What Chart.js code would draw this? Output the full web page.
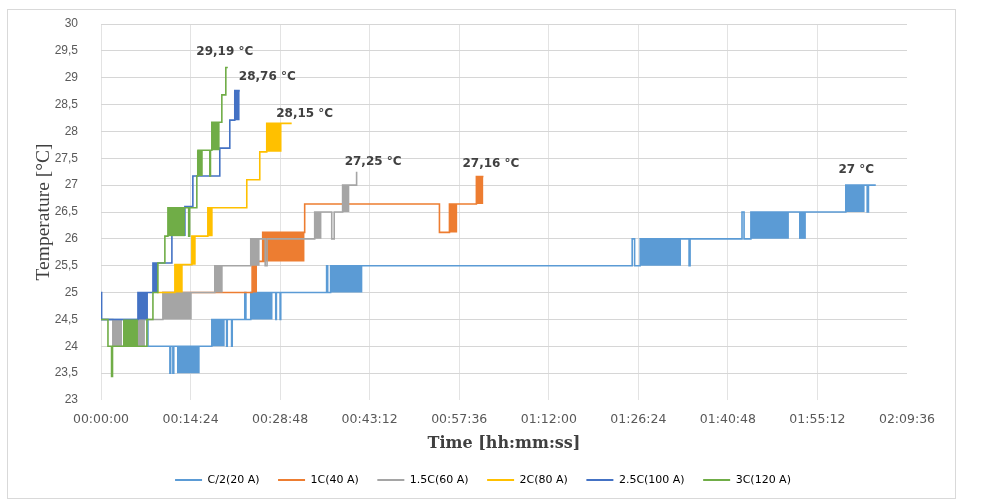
<!DOCTYPE html>
<html><head><meta charset="utf-8">
<script src="https://cdn.jsdelivr.net/npm/chart.js@4.4.1/dist/chart.umd.min.js"></script>
<style>
html,body{margin:0;padding:0;background:#fff;}
#frame{position:absolute;left:7px;top:9px;width:949px;height:490px;box-sizing:border-box;border:1px solid #d9d9d9;}
#c{position:absolute;left:8px;top:10px;}
</style></head><body>
<div id="frame"></div>
<canvas id="c" width="946" height="487"></canvas>
<script>
// ---- data (time in minutes, temperature in °C; each temperature holds until the next time) ----
const xTickLabels = ["00:00:00","00:14:24","00:28:48","00:43:12","00:57:36","01:12:00","01:26:24","01:40:48","01:55:12","02:09:36"];
const seriesNames = ["C/2(20 A)","1C(40 A)","1.5C(60 A)","2C(80 A)","2.5C(100 A)","3C(120 A)"];
const peakLabels = ["27 °C","27,16 °C","27,25 °C","28,15 °C","28,76 °C","29,19 °C"];

const c2Time = [0, 7.55, 11.08, 11.2, 11.56, 11.7, 17.82, 20.2, 20.3, 21.0, 21.1, 23.12, 23.3, 24.08, 28.1, 28.2, 28.8, 28.9, 36.28, 36.45, 36.92, 85.41, 85.8, 86.7, 94.56, 94.72, 103.07, 103.4, 104.5, 119.76, 123.2, 123.4, 124.58];
const c2Temp = [24.5, 24.0, 23.5, 24.0, 23.5, 24.0, 24.5, 24.0, 24.5, 24.0, 24.5, 25.0, 24.5, 25.0, 24.5, 25.0, 24.5, 25.0, 25.5, 25.0, 25.5, 26.0, 25.5, 26.0, 25.5, 26.0, 26.5, 26.0, 26.5, 27.0, 26.5, 27.0, 27.0];
// fluctuation bands: [start, end, low, high]
const c2Bands = [[12.2,15.89,23.5,24.0],[17.82,19.91,24.0,24.5],[24.08,27.61,24.5,25.0],[36.92,42.06,25.0,25.5],[86.7,93.27,25.5,26.0],[104.5,110.61,26.0,26.5],[112.22,113.34,26.0,26.5],[119.76,122.81,26.5,27.0]];

const c1Time = [9.8, 24.3, 26.0, 26.15, 26.33, 32.75, 54.42, 56.03, 60.36, 61.49];
const c1Temp = [25.0, 25.58, 26.12, 25.58, 26.12, 26.65, 26.12, 26.65, 27.16, 27.16];
const c1Bands = [[24.3,25.1,25.0,25.58],[26.33,32.75,25.58,26.12],[56.03,57.31,26.12,26.65],[60.36,61.49,26.65,27.16]];

const c15Time = [0, 1.9, 5.94, 9.95, 18.3, 24.08, 26.4, 26.7, 34.36, 37.1, 37.5, 38.85, 41.1];
const c15Temp = [24.5, 24.0, 24.5, 25.0, 25.5, 26.0, 25.5, 26.0, 26.5, 26.0, 26.5, 27.0, 27.25];
const c15Bands = [[1.9,3.4,24.0,24.5],[5.94,7.06,24.0,24.5],[9.95,14.61,24.5,25.0],[18.3,19.59,25.0,25.5],[24.08,25.53,25.5,26.0],[34.36,35.48,26.0,26.5],[38.85,39.97,26.5,27.0]];

const c20Time = [8.99, 11.88, 14.61, 17.18, 23.44, 25.53, 26.65, 30.66];
const c20Temp = [25.0, 25.52, 26.05, 26.58, 27.1, 27.62, 28.15, 28.15];
const c20Bands = [[11.88,13.16,25.0,25.52],[14.61,15.25,25.52,26.05],[17.18,17.98,26.05,26.58],[26.65,29.06,27.62,28.15]];

const c25Time = [0, 0.1, 5.94, 8.35, 11.4, 13.49, 14.77, 19.1, 20.71, 21.51, 22.31];
const c25Temp = [25.0, 24.5, 25.0, 25.55, 26.07, 26.6, 27.17, 27.69, 28.21, 28.76, 28.76];
const c25Bands = [[5.94,7.55,24.5,25.0],[8.35,9.15,25.0,25.55],[21.51,22.31,28.21,28.76]];

const c30Time = [0, 1.12, 1.7, 1.85, 7.38, 8.35, 9.15, 10.27, 10.76, 14.1, 14.25, 15.41, 15.6, 17.5, 17.6, 17.82, 19.43, 20.07, 20.39];
const c30Temp = [24.5, 24.0, 23.44, 24.0, 24.5, 25.0, 25.55, 26.05, 26.58, 26.05, 26.58, 27.17, 27.65, 27.17, 27.65, 28.17, 28.68, 29.19, 29.19];
const c30Bands = [[3.53,5.94,24.0,24.5],[10.76,13.49,26.05,26.58],[15.41,16.38,27.17,27.65],[17.82,19.1,27.65,28.17]];

// ---- styles ----
const colors = ['#5B9BD5','#ED7D31','#A5A5A5','#FFC000','#4472C4','#70AD47'];
const labelOffsets = [[-19.5,-15.7],[7.5,-12.6],[16.5,-9.8],[13,-9.4],[27.5,-13.7],[-3,-15.6]];

const series = [
  {time:c2Time, temp:c2Temp, bands:c2Bands},
  {time:c1Time, temp:c1Temp, bands:c1Bands},
  {time:c15Time, temp:c15Temp, bands:c15Bands},
  {time:c20Time, temp:c20Temp, bands:c20Bands},
  {time:c25Time, temp:c25Temp, bands:c25Bands},
  {time:c30Time, temp:c30Temp, bands:c30Bands}
];
function toMin(s){const p=s.split(':').map(Number);return p[0]*60+p[1]+p[2]/60;}

const datasets = [];
series.forEach((s,i)=>{
  datasets.push({label:seriesNames[i], data:s.time.map((t,k)=>({x:t,y:s.temp[k]})),
    borderColor:colors[i], backgroundColor:colors[i], borderWidth:1.6, stepped:true,
    pointRadius:0, pointHoverRadius:0, fill:false, order:6-i, borderJoinStyle:'miter'});
  s.bands.forEach(b=>datasets.push({label:seriesNames[i]+' band',
    data:[{x:b[0],y:b[3]},{x:b[1],y:b[3]}], borderWidth:0, borderColor:'rgba(0,0,0,0)',
    backgroundColor:colors[i], fill:{value:b[2]}, pointRadius:0, pointHoverRadius:0, order:6-i}));
});

const legendShift = {id:'legendShift', afterLayout(chart){const l=chart.legend; if(l){l.left=25; l.right=925;}}};
const peakPlugin = {id:'peaks', afterDatasetsDraw(chart){
  const {ctx, scales:{x,y}} = chart;
  ctx.save();
  ctx.font = 'bold 12px "DejaVu Sans"';
  ctx.fillStyle = '#404040'; ctx.textAlign='center'; ctx.textBaseline='middle';
  series.forEach((s,i)=>{
    const n = s.time.length-1;
    ctx.fillText(peakLabels[i], x.getPixelForValue(s.time[n])+labelOffsets[i][0], y.getPixelForValue(s.temp[n])+labelOffsets[i][1]);
  });
  ctx.restore();
}};

Chart.defaults.font.family = '"DejaVu Sans"';
new Chart(document.getElementById('c'), {
  type:'line',
  data:{datasets},
  plugins:[legendShift, peakPlugin],
  options:{
    responsive:false, animation:false, devicePixelRatio:1,
    layout:{padding:{left:0, right:47, top:14, bottom:1.5}},
    plugins:{
      tooltip:{enabled:false},
      legend:{position:'bottom', align:'center',
        labels:{boxWidth:27, boxHeight:2, padding:18.5, color:'#595959', font:{family:'"DejaVu Sans"', size:11},
          generateLabels:()=>seriesNames.map((n,i)=>({text:n, fillStyle:colors[i], strokeStyle:colors[i], lineWidth:0, hidden:false, datasetIndex:i}))}}
    },
    scales:{
      x:{type:'linear', min:0, max:toMin(xTickLabels[xTickLabels.length-1]),
        afterBuildTicks:s=>{s.ticks = xTickLabels.map(l=>({value:toMin(l)}));},
        afterFit:s=>{s.height=56;},
        border:{display:false},
        grid:{drawTicks:true, tickLength:9, tickColor:'rgba(0,0,0,0)', lineWidth:1, color:c=>c.index===xTickLabels.length-1?'rgba(0,0,0,0)':'#e3e3e3'},
        ticks:{autoSkip:false, maxRotation:0, padding:3, color:'#595959', font:{family:'"DejaVu Sans"', size:12.5},
          callback:(v,i)=>xTickLabels[i]},
        title:{display:true, text:'Time [hh:mm:ss]', color:'#404040', font:{family:'"DejaVu Serif"', size:16, weight:'bold'}, padding:{top:0,bottom:3}}
      },
      y:{min:23, max:30,
        afterFit:s=>{s.width=93;},
        border:{display:false},
        grid:{drawTicks:true, tickLength:20, tickColor:'rgba(0,0,0,0)', lineWidth:1, color:c=>c.tick.value===23?'rgba(0,0,0,0)':'#d6d6d6'},
        ticks:{stepSize:0.5, padding:3, color:'#595959', font:{family:'"Liberation Sans"', size:12},
          callback:v=>String(v).replace('.',',')},
        title:{display:true, text:'Temperature [°C]', color:'#404040', font:{family:'"Liberation Serif"', size:19.5}, padding:{top:24,bottom:0}}
      }
    }
  }
});
</script>
</body></html>
